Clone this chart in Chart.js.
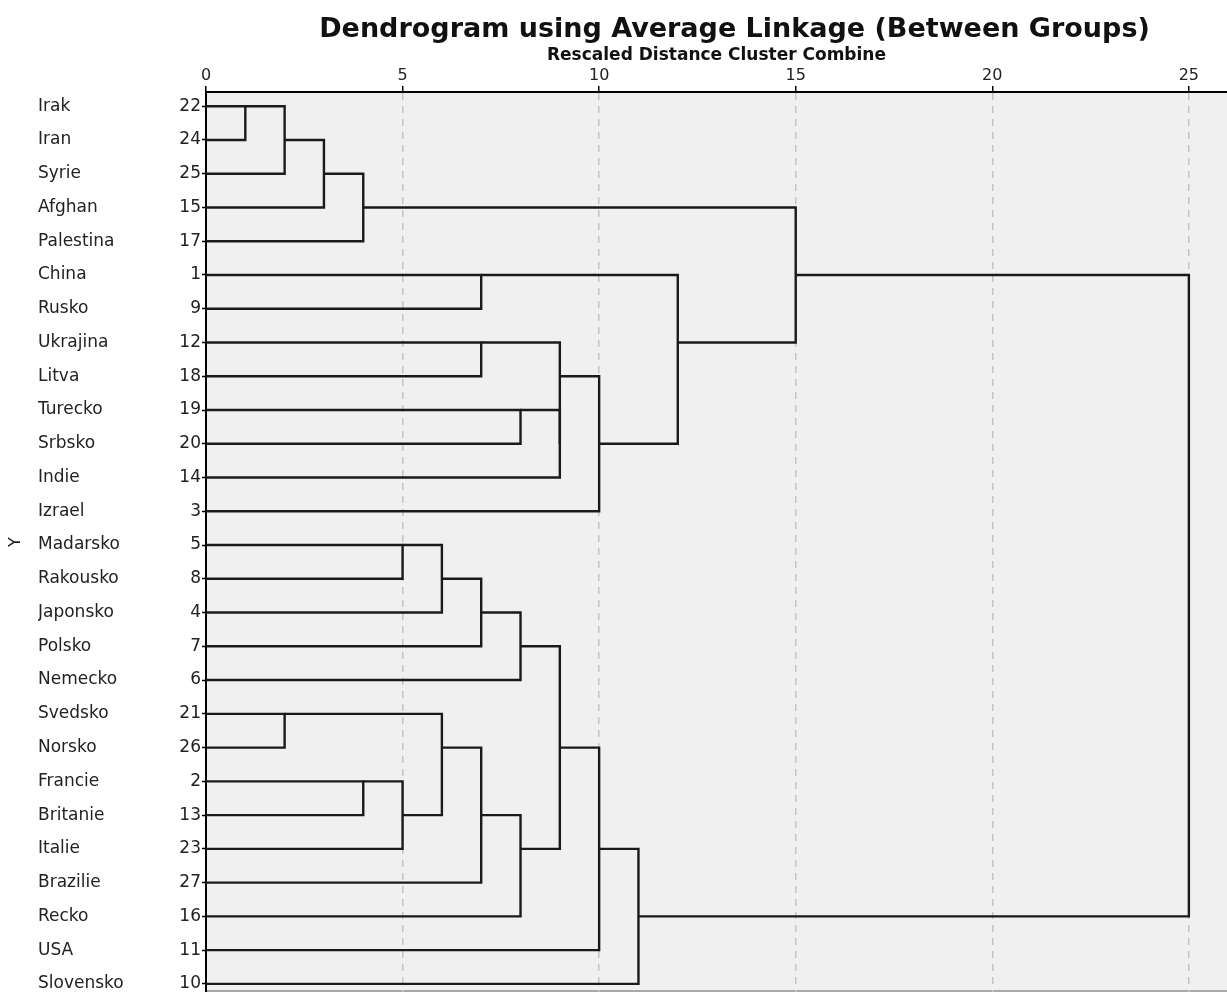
<!DOCTYPE html>
<html>
<head>
<meta charset="utf-8">
<script src="https://cdn.jsdelivr.net/npm/chart.js@4"></script>
<style>
  body { margin: 0; background: #fff; }
  canvas { display: block; }
</style>
</head>
<body>
<canvas id="myChart" width="1227" height="992"></canvas>
<script>
// leaves, top to bottom
const countries = ['Irak', 'Iran', 'Syrie', 'Afghan', 'Palestina', 'China', 'Rusko', 'Ukrajina', 'Litva',
    'Turecko', 'Srbsko', 'Indie', 'Izrael', 'Madarsko', 'Rakousko', 'Japonsko', 'Polsko', 'Nemecko',
    'Svedsko', 'Norsko', 'Francie', 'Britanie', 'Italie', 'Brazilie', 'Recko', 'USA', 'Slovensko'];
const caseNumbers = [22, 24, 25, 15, 17, 1, 9, 12, 18, 19, 20, 14, 3, 5, 8, 4, 7, 6, 21, 26, 2, 13, 23, 27, 16, 11, 10];

// merges: index < 27 is a leaf row, 27 + k is merge k
const mergeA = [0, 27, 28, 29, 18, 20, 13, 32, 33, 31, 5, 7, 35, 36, 9, 39, 40, 41, 38, 42, 45, 46, 48, 37, 30, 51];
const mergeB = [1, 2, 3, 4, 19, 21, 14, 22, 15, 34, 6, 8, 16, 23, 10, 17, 24, 11, 44, 43, 12, 25, 26, 47, 50, 49];
const mergeHeight = [1, 2, 3, 4, 2, 4, 5, 5, 6, 6, 7, 7, 7, 7, 8, 8, 8, 9, 9, 9, 10, 10, 11, 12, 15, 25];

const xTicks = [0, 5, 10, 15, 20, 25];

window.addEventListener('load', init);

function init() {
    const n = countries.length;
    const rowOf = [];
    const heightOf = [];
    for (let i = 0; i < n; i++) {
        rowOf[i] = i;
        heightOf[i] = 0;
    }

    const datasets = [];
    for (let k = 0; k < mergeHeight.length; k++) {
        const a = mergeA[k], b = mergeB[k], h = mergeHeight[k];
        datasets.push({
            data: [
                {x: heightOf[a], y: rowOf[a]},
                {x: h, y: rowOf[a]},
                {x: h, y: rowOf[b]},
                {x: heightOf[b], y: rowOf[b]}
            ],
            showLine: true,
            borderColor: '#1a1a1a',
            borderWidth: 2.4,
            pointRadius: 0,
            fill: false,
            tension: 0,
            xAxisID: 'x',
            yAxisID: 'yNum'
        });
        // SPSS puts the joined cluster on the middle row (rounded up)
        rowOf[n + k] = Math.floor((rowOf[a] + rowOf[b]) / 2);
        heightOf[n + k] = h;
    }

    const plotBackground = {
        id: 'plotBackground',
        afterLayout(chart) {
            // title sits a little right of the plot centre in the original
            if (chart.titleBlock) {
                chart.titleBlock.left += 18;
                chart.titleBlock.right += 18;
            }
        },
        beforeDraw(chart) {
            const {ctx, chartArea: a} = chart;
            ctx.save();
            ctx.fillStyle = '#f0f0f0';
            ctx.fillRect(a.left, a.top, a.right - a.left, a.bottom - a.top);
            ctx.strokeStyle = '#a8a8a8';
            ctx.lineWidth = 2;
            ctx.beginPath();
            ctx.moveTo(a.left, a.bottom - 1);
            ctx.lineTo(a.right, a.bottom - 1);
            ctx.stroke();
            ctx.restore();
        }
    };

    const yMin = -0.42, yMax = 26.24;
    const rowTicks = (scale) => { scale.ticks = countries.map((c, i) => ({value: i})); };
    // fixed width, and no label overhang padding at top/bottom
    const fitRows = (w) => (scale) => {
        scale.width = w;
        scale.paddingTop = 0;
        scale.paddingBottom = 0;
    };

    Chart.defaults.font.family = 'DejaVu Sans';
    Chart.defaults.color = '#222';

    const ctx = document.getElementById('myChart');
    new Chart(ctx, {
        type: 'scatter',
        data: {datasets: datasets},
        plugins: [plotBackground],
        options: {
            responsive: false,
            animation: false,
            devicePixelRatio: 1,
            layout: {padding: 0, autoPadding: false},
            plugins: {
                legend: {display: false},
                tooltip: {enabled: false},
                title: {
                    display: true,
                    text: 'Dendrogram using Average Linkage (Between Groups)',
                    font: {size: 27, weight: 'bold', lineHeight: 1},
                    color: '#111',
                    fullSize: false,
                    padding: {top: 16, bottom: 2}
                }
            },
            scales: {
                x: {
                    type: 'linear',
                    position: 'top',
                    min: 0,
                    max: 25.97,
                    afterBuildTicks: (scale) => { scale.ticks = xTicks.map(v => ({value: v})); },
                    ticks: {font: {size: 16, lineHeight: 1}, padding: 2, color: '#222'},
                    grid: {
                        color: (c) => (c.tick && c.tick.value === 0) ? 'rgba(0,0,0,0)' : '#c4c4c4',
                        lineWidth: 1.5,
                        tickColor: '#000',
                        tickLength: 6,
                        tickWidth: 1.5
                    },
                    border: {color: '#000', width: 2, dash: [7, 6]},
                    title: {
                        display: true,
                        text: 'Rescaled Distance Cluster Combine',
                        font: {size: 17, weight: 'bold', lineHeight: 1},
                        color: '#111',
                        padding: {top: 2, bottom: 2}
                    }
                },
                yNum: {
                    type: 'linear',
                    position: 'left',
                    weight: 1,
                    reverse: true,
                    min: yMin,
                    max: yMax,
                    afterBuildTicks: rowTicks,
                    afterFit: fitRows(30),
                    ticks: {
                        font: {size: 17},
                        padding: 1,
                        color: '#222',
                        autoSkip: false,
                        callback: (v) => caseNumbers[v]
                    },
                    grid: {drawOnChartArea: false, tickLength: 4, tickColor: '#000', tickWidth: 1.5},
                    border: {color: '#000', width: 2}
                },
                yName: {
                    type: 'linear',
                    position: 'left',
                    weight: 2,
                    reverse: true,
                    min: yMin,
                    max: yMax,
                    afterBuildTicks: rowTicks,
                    afterFit: fitRows(138),
                    ticks: {
                        font: {size: 17},
                        color: '#222',
                        crossAlign: 'far',
                        autoSkip: false,
                        callback: (v) => countries[v]
                    },
                    grid: {display: false, drawTicks: false},
                    border: {display: false}
                },
                yTitle: {
                    type: 'linear',
                    position: 'left',
                    weight: 3,
                    display: true,
                    min: yMin,
                    max: yMax,
                    afterFit: fitRows(38),
                    ticks: {display: false},
                    grid: {display: false, drawTicks: false},
                    border: {display: false},
                    title: {
                        display: true,
                        text: 'Y',
                        font: {size: 16},
                        color: '#222',
                        padding: {top: 6, bottom: 12}
                    }
                }
            }
        }
    });
}
</script>
</body>
</html>
